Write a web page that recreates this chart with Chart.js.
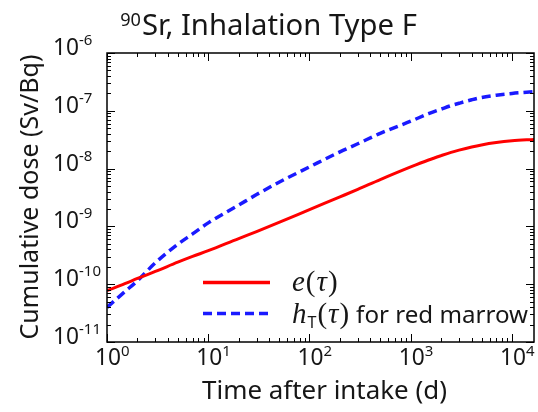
<!DOCTYPE html>
<html><head><meta charset="utf-8">
<script src="https://cdn.jsdelivr.net/npm/chart.js@4.4.1/dist/chart.umd.min.js"></script>
<style>html,body{margin:0;padding:0;background:#fff}#wrap{width:538px;height:412px;position:relative}</style>
</head><body><div id="wrap"><canvas id="c" width="538" height="412"></canvas></div>
<script>
// ---- data ----
const timeDays      = [1, 1.5, 2, 3, 5, 7, 10, 20, 30, 50, 100, 200, 300, 500, 1000, 1500, 2000, 2500, 3000, 4000, 5000, 7000, 10000, 16500];
const effectiveDose = [7.76e-11, 1.02e-10, 1.26e-10, 1.66e-10, 2.40e-10, 3.02e-10, 3.80e-10, 6.17e-10, 8.13e-10, 1.17e-9, 1.95e-9, 3.24e-9, 4.37e-9, 6.46e-9, 1.07e-8, 1.41e-8, 1.68e-8, 1.91e-8, 2.09e-8, 2.37e-8, 2.57e-8, 2.82e-8, 3.02e-8, 3.20e-8];
const redMarrowDose = [3.98e-11, 7.41e-11, 1.15e-10, 2.34e-10, 4.90e-10, 7.41e-10, 1.15e-9, 2.34e-9, 3.55e-9, 5.82e-9, 1.07e-8, 1.95e-8, 2.69e-8, 4.07e-8, 6.61e-8, 8.91e-8, 1.07e-7, 1.23e-7, 1.35e-7, 1.55e-7, 1.70e-7, 1.86e-7, 2.00e-7, 2.14e-7];
const xTickValues    = [1, 10, 100, 1000, 10000];
const xTickExponents = ['0', '1', '2', '3', '4'];
const yTickValues    = [1e-11, 1e-10, 1e-9, 1e-8, 1e-7, 1e-6];
const yTickExponents = ['-11', '-10', '-9', '-8', '-7', '-6'];
const titleSup  = '90';
const titleMain = 'Sr, Inhalation Type F';
const xTitle = 'Time after intake (d)';
const yTitle = 'Cumulative dose (Sv/Bq)';
const legendE = ['e', '(', 'τ', ')'];
const legendH = ['h', 'T', '(', 'τ', ')'];
const legendHText = 'for red marrow';

const SANS = '"Noto Sans", "Open Sans", sans-serif';
const SERIF = '"Liberation Serif", "DejaVu Serif", serif';
const INK = '#161616';
const RED = '#ff0000';
const BLUE = '#1a1aff';

function fitSize(ctx, text, style, family, width){
  ctx.font = style + ' 100px ' + family;
  return 100 * width / ctx.measureText(text).width;
}

const decor = {
  id: 'decor',
  afterDraw(chart){
    const ctx = chart.ctx, a = chart.chartArea, xs = chart.scales.x, ys = chart.scales.y;
    ctx.save();
    // frame
    ctx.strokeStyle = '#000';
    ctx.lineWidth = 1.5;
    ctx.strokeRect(a.left, a.top, a.right - a.left, a.bottom - a.top);
    // inward ticks on all four sides
    ctx.lineWidth = 1;
    ctx.beginPath();
    for (let d = 0; d <= 4; d++) for (let m = 1; m <= 9; m++) {
      const v = m * Math.pow(10, d);
      if (v > xs.max) continue;
      const px = Math.round(xs.getPixelForValue(v)) + 0.5;
      const L = m === 1 ? 8 : 4;
      ctx.moveTo(px, a.bottom); ctx.lineTo(px, a.bottom - L);
      ctx.moveTo(px, a.top); ctx.lineTo(px, a.top + L);
    }
    for (let d = -11; d <= -6; d++) for (let m = 1; m <= 9; m++) {
      const v = m * Math.pow(10, d);
      if (v > ys.max * 1.0001) continue;
      const py = Math.round(ys.getPixelForValue(v)) + 0.5;
      const L = m === 1 ? 8 : 4;
      ctx.moveTo(a.left, py); ctx.lineTo(a.left + L, py);
      ctx.moveTo(a.right, py); ctx.lineTo(a.right - L, py);
    }
    ctx.stroke();

    ctx.fillStyle = INK;
    ctx.textBaseline = 'alphabetic';
    const baseSize = fitSize(ctx, '10', '', SANS, 26);
    const expSize = baseSize * 0.66;
    // x tick labels
    xTickValues.forEach((v, i) => {
      const px = xs.getPixelForValue(v);
      ctx.font = baseSize + 'px ' + SANS;
      const w = ctx.measureText('10').width;
      ctx.textAlign = 'left';
      ctx.fillText('10', px - w / 2 + 1, 365);
      ctx.font = expSize + 'px ' + SANS;
      ctx.fillText(xTickExponents[i], px + w / 2 + 1, 356);
    });
    // y tick labels
    yTickValues.forEach((v, i) => {
      const py = ys.getPixelForValue(v);
      ctx.font = baseSize + 'px ' + SANS;
      const w = ctx.measureText('10').width;
      ctx.textAlign = 'left';
      ctx.fillText('10', 53, py + 2);
      ctx.font = expSize + 'px ' + SANS;
      ctx.fillText(yTickExponents[i], 53 + w, py - 8);
    });
    // title
    const tSize = fitSize(ctx, titleMain, '', SANS, 275);
    ctx.font = tSize + 'px ' + SANS;
    ctx.fillText(titleMain, 142, 35);
    ctx.font = (tSize * 0.62) + 'px ' + SANS;
    ctx.textAlign = 'right';
    ctx.fillText(titleSup, 141, 26);
    // x axis title
    ctx.textAlign = 'center';
    const xtSize = fitSize(ctx, xTitle, '', SANS, 245);
    ctx.font = xtSize + 'px ' + SANS;
    ctx.fillText(xTitle, 324.5, 399);
    // y axis title
    const ytSize = fitSize(ctx, yTitle, '', SANS, 285);
    ctx.font = ytSize + 'px ' + SANS;
    ctx.save();
    ctx.translate(38, 197);
    ctx.rotate(-Math.PI / 2);
    ctx.fillText(yTitle, 0, 0);
    ctx.restore();

    // legend
    ctx.lineWidth = 3.5;
    ctx.lineCap = 'butt';
    ctx.strokeStyle = RED;
    ctx.setLineDash([]);
    ctx.beginPath(); ctx.moveTo(203, 282.5); ctx.lineTo(270, 282.5); ctx.stroke();
    ctx.strokeStyle = BLUE;
    ctx.setLineDash([9, 5]);
    ctx.beginPath(); ctx.moveTo(203, 313.5); ctx.lineTo(270, 313.5); ctx.stroke();
    ctx.setLineDash([]);

    ctx.fillStyle = INK;
    ctx.textAlign = 'left';
    const mSize = 29;
    const pieces = (arr, baseY) => {
      let x = 292;
      arr.forEach((s) => {
        let font, y = baseY;
        if (s === 'e' || s === 'h' || s === 'τ') font = 'italic ' + mSize + 'px ' + SERIF;
        else if (s === '(' || s === ')') font = mSize + 'px ' + SERIF;
        else { font = (xtSize * 0.62) + 'px ' + SANS; y = baseY + 5; }
        ctx.font = font;
        ctx.fillText(s, x, y);
        x += ctx.measureText(s).width + 1;
      });
      return x;
    };
    pieces(legendE, 291);
    const hEnd = pieces(legendH, 323);
    const sSize = Math.min(xtSize, fitSize(ctx, legendHText, '', SANS, 172));
    ctx.font = sSize + 'px ' + SANS;
    ctx.fillText(legendHText, Math.max(hEnd + 6, 356), 323);
    ctx.restore();
  }
};

const toPoints = ys => timeDays.map((t, i) => ({x: t, y: ys[i]}));

new Chart(document.getElementById('c'), {
  type: 'line',
  data: {
    datasets: [
      { label: 'e(τ)', data: toPoints(effectiveDose), borderColor: RED, borderWidth: 3,
        pointRadius: 0, cubicInterpolationMode: 'monotone', fill: false },
      { label: 'h_T(τ) for red marrow', data: toPoints(redMarrowDose), borderColor: BLUE, borderWidth: 3.5,
        borderDash: [9, 5], borderCapStyle: 'butt', pointRadius: 0, cubicInterpolationMode: 'monotone', fill: false }
    ]
  },
  options: {
    responsive: false, animation: false, devicePixelRatio: 1,
    layout: { padding: { left: 107, top: 53, right: 4, bottom: 70 } },
    scales: {
      x: { type: 'logarithmic', min: 1, max: 16500, display: false },
      y: { type: 'logarithmic', min: 1e-11, max: 1e-6, display: false }
    },
    plugins: { legend: { display: false }, tooltip: { enabled: false }, title: { display: false } }
  },
  plugins: [decor]
});
</script>
</body></html>
